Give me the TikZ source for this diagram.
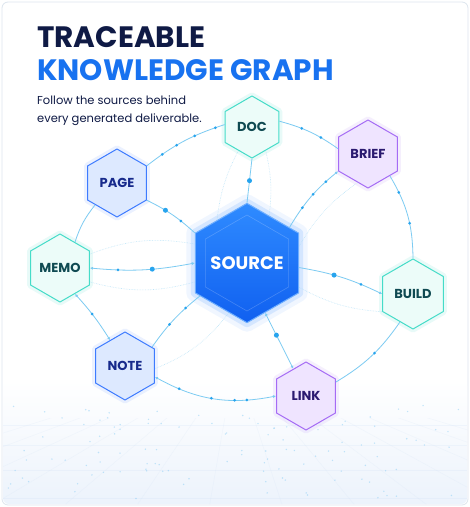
\documentclass[tikz,border=0pt]{standalone}
\usepackage{fontspec}
\setmainfont{Poppins}
\usetikzlibrary{positioning,arrows.meta,shapes.geometric,calc}

\definecolor{navy}{HTML}{0F1A45}
\definecolor{titleblue}{HTML}{1872F0}
\definecolor{cardline}{HTML}{DDE5EE}
\definecolor{linkc}{HTML}{7CCBF2}
\definecolor{dotc}{HTML}{27A4EE}
\definecolor{tealline}{HTML}{45DCC8}
\definecolor{tealfill}{HTML}{ECFCF9}
\definecolor{tealtext}{HTML}{0F4A52}
\definecolor{blueline}{HTML}{3D7BFF}
\definecolor{bluefill}{HTML}{DDE9FF}
\definecolor{bluetext}{HTML}{172A8C}
\definecolor{purpline}{HTML}{A56BF5}
\definecolor{purpfill}{HTML}{EFE4FF}
\definecolor{purptext}{HTML}{2B1A70}
\definecolor{srctop}{HTML}{2F8BFF}
\definecolor{srcbot}{HTML}{1060F0}
\definecolor{floor}{HTML}{C9DCF5}

\begin{document}
\begin{tikzpicture}[x=1pt, y=-1pt,
  hex/.style={regular polygon, regular polygon sides=6, shape border rotate=30,
              inner sep=0pt, line width=1pt, line join=round,
              font=\bfseries\fontsize{13}{13}\selectfont},
  tealhex/.style={hex, minimum size=68pt, draw=tealline, fill=tealfill, text=tealtext,
                  preaction={draw=tealline, line width=7pt, opacity=.12}},
  bluehex/.style={hex, minimum size=68pt, draw=blueline, fill=bluefill, text=bluetext,
                  preaction={draw=blueline, line width=7pt, opacity=.1}},
  purphex/.style={hex, minimum size=68pt, draw=purpline, fill=purpfill, text=purptext,
                  preaction={draw=purpline, line width=7pt, opacity=.1}},
  srchex/.style={hex, minimum size=112pt, draw=srctop!70!white, top color=srctop,
                 bottom color=srcbot, text=white, font=\bfseries\fontsize{18}{18}\selectfont,
                 preaction={draw=srctop, line width=18pt, opacity=.07},
                 preaction={draw=srctop, line width=9pt, opacity=.14}},
  titletext/.style={anchor=base west, inner sep=0pt, font=\bfseries\fontsize{29.5}{30}\selectfont},
  subtext/.style={anchor=base west, inner sep=0pt, text=navy, font=\fontsize{11.5}{14}\selectfont},
  link/.style={draw=linkc, line width=.8pt},
  faint/.style={draw=linkc!70, line width=.6pt, densely dotted, opacity=.7},
  dot/.style={circle, fill=dotc, inner sep=0pt, minimum size=3pt},
  bigdot/.style={dot, minimum size=5pt},
  tip/.style={{Latex[length=3pt,width=3pt]}-{Latex[length=3pt,width=3pt]}},
  endtip/.style={-{Latex[length=3pt,width=3pt]}},
]
\useasboundingbox (0,0) rectangle (470,507);

% card and floor
\draw[rounded corners=6pt, draw=cardline, line width=.8pt, fill=white] (2,2) rectangle (468,505);
\begin{scope}
  \clip[rounded corners=6pt] (3,380) rectangle (467,504);
  \shade[top color=white, bottom color=floor!35] (3,380) rectangle (467,504);
  \clip (3,418) rectangle (467,504);
  \foreach \gy in {425,445,470,498}
    \draw[floor, opacity=.2, line width=.4pt] (3,\gy) -- (467,\gy);
  \foreach \gx in {-400,-300,...,900}
    \draw[floor, opacity=.2, line width=.4pt] (235,360) -- (\gx,560);
\end{scope}
\pgfmathsetseed{11}
\foreach \k in {1,...,120} {
  \pgfmathsetmacro\px{rnd*455+8}
  \pgfmathsetmacro\py{405+rnd*95}
  \fill[dotc!60, opacity=.45] (\px,\py) circle (0.8);
}

% titles
\node[titletext, text=navy] (title1) at (37,47) {TRACEABLE};
\node[titletext, text=titleblue] (title2) at (37,80) {KNOWLEDGE GRAPH};
\node[subtext] (sub1) at (37,104) {Follow the sources behind};
\node[subtext] (sub2) at (37,122) {every generated deliverable.};

% nodes
\node[tealhex, minimum size=62pt] (doc) at (252,127) {DOC};
\node[purphex] (brief) at (368,154) {BRIEF};
\node[bluehex] (page) at (117,183) {PAGE};
\node[srchex] (source) at (247,263) {SOURCE};
\node[hex, minimum size=96pt, draw=white, opacity=.2, line width=.6pt] (srcinner) at (247,263) {};
\node[tealhex] (memo) at (60,268) {MEMO};
\node[tealhex, minimum size=70pt] (build) at (413,294) {BUILD};
\node[bluehex] (note) at (125,366) {NOTE};
\node[purphex] (link) at (306,396) {LINK};

% faint traces
\draw[faint] (memo.25) to[bend left=15] (source.160);
\draw[faint] (memo.-25) to[bend right=15] (source.-160);
\draw[faint] (doc.-120) to[bend right=10] (source.125);
\draw[faint] (doc.-60) to[bend left=10] (source.65);
\draw[faint] (source.-25) to[bend right=12] (build.-150);
\draw[faint] (source.-110) to[bend left=15] (note.-5);
\draw[faint] (source.18) to[bend left=12] (brief.-110);

% links
\draw[link] (page.-30) to[bend left=8] node[bigdot,pos=.35]{} node[dot,pos=.7]{} (source.150);
\draw[link] (doc.-90) -- node[bigdot,pos=.5]{} (source.90);
\draw[link, endtip] (source.40) to[bend left=10] node[dot,pos=.3]{} node[dot,pos=.55]{} node[dot,pos=.8]{} (brief.-150);
\draw[link] (brief.-45) to[bend left=15] node[dot,pos=.2]{} node[dot,pos=.6]{} (build.90);
\draw[link] (doc.12) to[bend left=10] node[dot,pos=.35]{} node[dot,pos=.7]{} (brief.170);
\draw[link] (page.30) to[bend left=10] node[dot,pos=.2]{} node[dot,pos=.4]{} node[dot,pos=.65]{} node[dot,pos=.9]{} (doc.175);
\draw[link] (page.-135) to[bend right=10] (memo.60);
\draw[link, tip] (memo.0) to[bend right=8] node[dot,pos=.25]{} node[bigdot,pos=.6]{} (source.180);
\draw[link, endtip] (source.-5) to[bend left=8] node[bigdot,pos=.4]{} node[dot,pos=.75]{} (build.180);
\draw[link, tip] (memo.-60) to[bend left=5] node[dot,pos=.45]{} (note.120);
\draw[link] (source.-145) to[bend right=8] node[dot,pos=.25]{} node[dot,pos=.6]{} (note.35);
\draw[link, tip] (source.-70) -- node[bigdot,pos=.4]{} (link.115);
\draw[link, tip] (note.-20) to[bend right=20] node[dot,pos=.2]{} node[dot,pos=.48]{} node[dot,pos=.68]{} node[dot,pos=.78]{} (link.180);
\draw[link] (build.-115) to[bend left=12] node[dot,pos=.45]{} (link.25);

\end{tikzpicture}
\end{document}
